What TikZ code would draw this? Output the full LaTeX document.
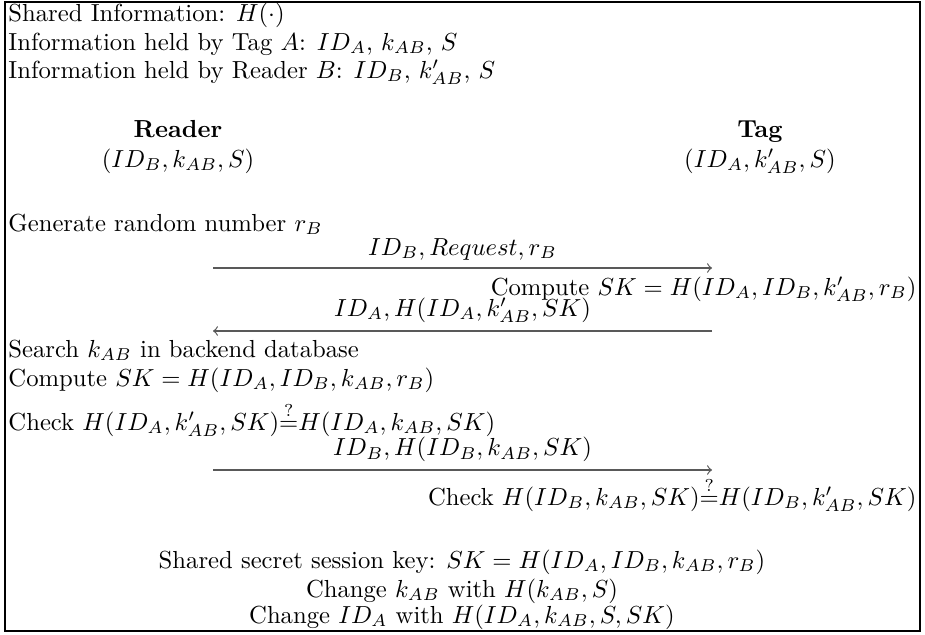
\documentclass[tikz,border=0pt]{standalone}
\usepackage{amsmath,amssymb}
\usepackage{tikz}

\begin{document}
\begin{tikzpicture}[x=0.4055pt,y=-0.4055pt,>=to,
  txt/.style={inner sep=0pt,anchor=base west},
  rtxt/.style={inner sep=0pt,anchor=base east},
  ctxt/.style={inner sep=0pt,anchor=base},
  lbl/.style={inner sep=0pt,above=3pt,text=black},
  msg/.style={->,black!65,line width=0.5pt}]
\useasboundingbox (0,0) rectangle (925,634);
\draw[line width=1pt] (5,2) rectangle (920,631);
% shared information
\node[txt] (shared) at (8,21) {Shared Information: $H(\cdot)$};
\node[txt] (tagInfo) at (8,50) {Information held by Tag $A$: $ID_A$, $k_{AB}$, $S$};
\node[txt] (readerInfo) at (8,78) {Information held by Reader $B$: $ID_B$, $k'_{AB}$, $S$};
% parties
\node[ctxt] (reader) at (178,137) {\textbf{Reader}};
\node[ctxt] (readerKeys) at (178,167) {$(ID_B,k_{AB},S)$};
\node[ctxt] (tag) at (760,137) {\textbf{Tag}};
\node[ctxt] (tagKeys) at (760,167) {$(ID_A,k'_{AB},S)$};
% columns of the messages
\coordinate (r1) at (213,268); \coordinate (t1) at (712,268);
\coordinate (r2) at (213,331); \coordinate (t2) at (712,331);
\coordinate (r3) at (213,470); \coordinate (t3) at (712,470);
% protocol
\node[txt] (gen) at (8,231) {Generate random number $r_B$};
\draw[msg] (r1) -- node[lbl] (m1) {$ID_B, Request, r_B$} (t1);
\node[rtxt] (tagSK) at (917,295) {Compute $SK = H(ID_A, ID_B, k'_{AB}, r_B)$};
\draw[msg] (t2) -- node[lbl] (m2) {$ID_A, H(ID_A, k'_{AB}, SK)$} (r2);
\node[txt] (search) at (8,357) {Search $k_{AB}$ in backend database};
\node[txt] (readerSK) at (8,386) {Compute $SK = H(ID_A, ID_B, k_{AB}, r_B)$};
\node[txt] (readerChk) at (8,430) {Check $H(ID_A, k'_{AB}, SK){\stackrel{?}{=}}H(ID_A, k_{AB}, SK)$};
\draw[msg] (r3) -- node[lbl] (m3) {$ID_B, H(ID_B, k_{AB}, SK)$} (t3);
\node[rtxt] (tagChk) at (917,505) {Check $H(ID_B, k_{AB}, SK){\stackrel{?}{=}}H(ID_B, k'_{AB}, SK)$};
% result
\node[ctxt] (session) at (462,568) {Shared secret session key: $SK = H(ID_A, ID_B, k_{AB}, r_B)$};
\node[ctxt] (updK) at (462,597) {Change $k_{AB}$ with $H(k_{AB}, S)$};
\node[ctxt] (updID) at (462,623) {Change $ID_A$ with $H(ID_A, k_{AB}, S, SK)$};
\end{tikzpicture}
\end{document}
